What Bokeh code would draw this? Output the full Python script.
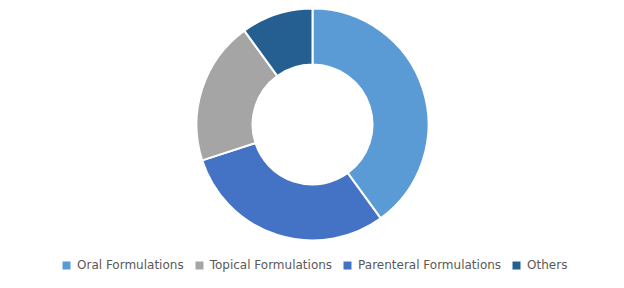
from math import pi
from bokeh.plotting import figure
from bokeh.models import Range1d, Legend, LegendItem, ColumnDataSource
from bokeh.embed import file_html
from bokeh.resources import INLINE

# Data (legend order)
categories = ["Oral Formulations", "Topical Formulations", "Parenteral Formulations", "Others"]
shares = [40, 20, 30, 10]
colors = ["#5B9BD5", "#A5A5A5", "#4472C4", "#255E91"]
# order in which the slices are drawn clockwise from 12 o'clock
draw_order = ["Oral Formulations", "Parenteral Formulations", "Topical Formulations", "Others"]

W, H = 624, 288
cx, cy = 312, H - 124
r_out, r_in = 116, 60

p = figure(width=W, height=H, output_backend="svg", toolbar_location=None,
           x_range=Range1d(0, W), y_range=Range1d(0, H), min_border=0)
p.axis.visible = False
p.grid.visible = False
p.outline_line_color = None
p.background_fill_color = "white"
p.border_fill_color = "white"

total = sum(shares)
starts, ends, cols = [], [], []
acc = 0.0
for name in draw_order:
    i = categories.index(name)
    frac = shares[i] / total
    starts.append(pi / 2 - acc * 2 * pi)
    acc += frac
    ends.append(pi / 2 - acc * 2 * pi)
    cols.append(colors[i])

src = ColumnDataSource(dict(start=starts, end=ends, color=cols,
                            x=[cx] * len(starts), y=[cy] * len(starts)))
p.annular_wedge(x="x", y="y", inner_radius=r_in, outer_radius=r_out,
                start_angle="start", end_angle="end", direction="clock",
                fill_color="color", line_color="white", line_width=2, source=src)

items = []
for name, c in zip(categories, colors):
    r = p.scatter(x=[float("nan")], y=[float("nan")], marker="square", size=8,
                  fill_color=c, line_color=None)
    items.append(LegendItem(label=name, renderers=[r]))

legend = Legend(items=items, orientation="horizontal", location=(56, 13),
                label_text_font="DejaVu Sans", label_text_font_size="12px",
                label_text_color="#595959", glyph_width=20, glyph_height=20,
                label_height=14, label_standoff=1, spacing=5, padding=0, margin=0,
                border_line_color=None, background_fill_alpha=0)
p.add_layout(legend, "center")

open("out.html", "w").write(file_html(p, INLINE))
